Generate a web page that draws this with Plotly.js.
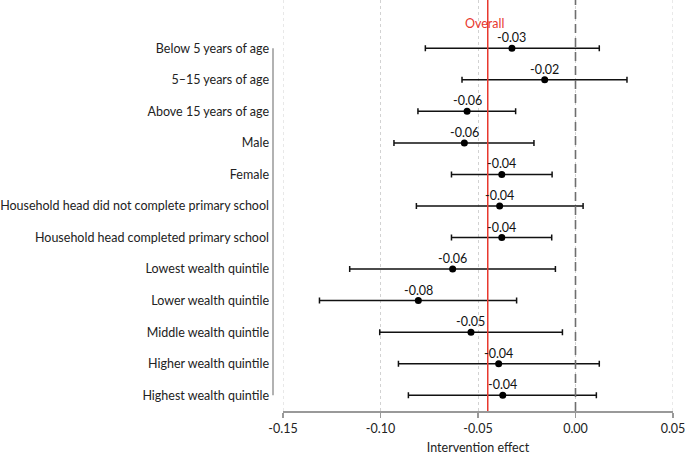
<!DOCTYPE html>
<html><head><meta charset="utf-8">
<script src="https://cdn.plot.ly/plotly-3.0.1.min.js"></script>
<style>html,body{margin:0;padding:0;background:#fff}#chart{width:685px;height:455px}</style>
</head><body><div id="chart"></div>
<script>
const categories = ["Below 5 years of age","5\u201315 years of age","Above 15 years of age","Male","Female","Household head did not complete primary school","Household head completed primary school","Lowest wealth quintile","Lower wealth quintile","Middle wealth quintile","Higher wealth quintile","Highest wealth quintile"];
const estimates = [-0.0326,-0.0158,-0.0556,-0.057,-0.0378,-0.0389,-0.0378,-0.063,-0.0806,-0.0536,-0.0394,-0.0373];
const ciLow = [-0.077,-0.0582,-0.0808,-0.0931,-0.0636,-0.0816,-0.0636,-0.1158,-0.1313,-0.1004,-0.0908,-0.0857];
const ciHigh = [0.0122,0.0264,-0.0307,-0.0213,-0.012,0.0039,-0.0122,-0.0103,-0.0302,-0.0067,0.0122,0.0107];
const pointLabels = ["-0.03","-0.02","-0.06","-0.06","-0.04","-0.04","-0.04","-0.06","-0.08","-0.05","-0.04","-0.04"];
const overall = -0.045;
const xTicks = [-0.15,-0.10,-0.05,0.00,0.05];
const xTickText = ["-0.15","-0.10","-0.05","0.00","0.05"];

const idx = categories.map((c,i)=>i);
const font = "Lato, 'Open Sans', sans-serif";

const trace = {
  type:'scatter', mode:'markers',
  x: estimates, y: idx,
  marker:{color:'#000',size:7},
  error_x:{type:'data',symmetric:false,
    array: estimates.map((e,i)=>ciHigh[i]-e),
    arrayminus: estimates.map((e,i)=>e-ciLow[i]),
    color:'#111',thickness:1.5,width:3},
  hoverinfo:'skip', showlegend:false, cliponaxis:false
};

const gridDot = {color:'#d2d2d2',width:1,dash:'dot'};
const shapes = [
  {type:'line',xref:'x',yref:'paper',x0:xTicks[0],x1:xTicks[0],y0:0,y1:1,line:gridDot},
  {type:'line',xref:'x',yref:'paper',x0:xTicks[4],x1:xTicks[4],y0:0,y1:1,line:gridDot},
  {type:'line',xref:'x',yref:'paper',x0:0,x1:0,y0:0,y1:1,line:{color:'#6e6e6e',width:1.6,dash:'9px,5px'}},
  {type:'line',xref:'x',yref:'paper',x0:overall,x1:overall,y0:0,y1:1,line:{color:'#e8382e',width:1.5}},
  {type:'line',xref:'paper',yref:'y',x0:-10/390,x1:-10/390,y0:0,y1:11,line:{color:'#999',width:1.5}}
];

const annotations = pointLabels.map((t,i)=>({
  xref:'x',yref:'y',x:estimates[i],y:i,text:t,showarrow:false,
  xanchor:'center',yanchor:'bottom',yshift:1,
  font:{family:font,size:12.5,color:'#111'}
}));
annotations.push({xref:'x',yref:'paper',x:overall,y:(411-23)/411,yanchor:'middle',xanchor:'center',text:'Overall',showarrow:false,xshift:-3,
     font:{family:font,size:12.5,color:'#e8382e'}});

const layout = {
  width:685,height:455,
  margin:{l:283,r:12,t:0,b:44},
  paper_bgcolor:'#fff',plot_bgcolor:'#fff',
  font:{family:font,size:12.5,color:'#222'},
  xaxis:{range:[-0.1500005,0.0500005],tickvals:xTicks,ticktext:xTickText,
    showgrid:true,gridcolor:'#d2d2d2',griddash:'dot',gridwidth:1,
    zeroline:false,showline:true,linecolor:'#999',linewidth:1.5,
    ticks:'outside',ticklen:5,tickcolor:'#999',tickwidth:1.5,
    ticklabeloverflow:'allow',
    tickfont:{family:font,size:12.5,color:'#222'},
    title:{text:'Intervention effect',font:{family:font,size:12.5,color:'#222'},standoff:8}},
  yaxis:{range:[11.5,-1.53],tickvals:idx,ticktext:categories,
    showgrid:false,zeroline:false,showline:false,ticks:'',
    ticklabelstandoff:13,
    tickfont:{family:font,size:12.5,color:'#222'}},
  shapes: shapes,
  annotations: annotations
};
Plotly.newPlot('chart',[trace],layout,{displayModeBar:false,staticPlot:true});
</script></body></html>
